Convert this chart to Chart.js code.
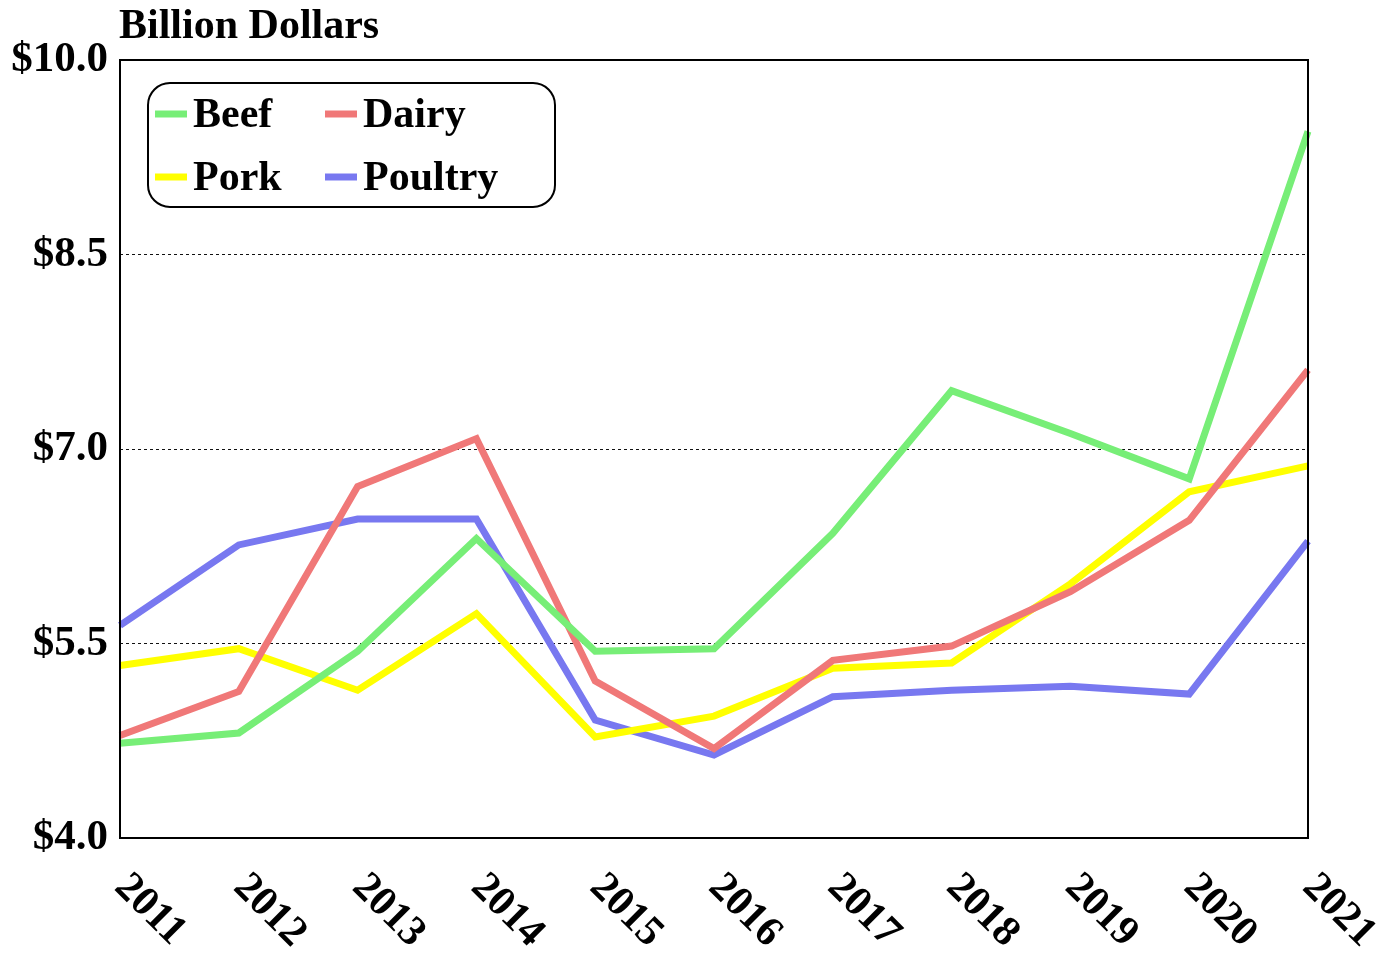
<!DOCTYPE html>
<html>
<head>
<meta charset="utf-8">
<script src="https://cdn.jsdelivr.net/npm/chart.js@4.4.1/dist/chart.umd.min.js"></script>
<style>
  body { margin: 0; background: #fff; }
  #wrap { width: 1380px; height: 953px; }
</style>
</head>
<body>
<div id="wrap"><canvas id="meatChart" width="1380" height="953"></canvas></div>
<script>
const years = ["2011", "2012", "2013", "2014", "2015", "2016", "2017", "2018", "2019", "2020", "2021"];
const beef = [4.73, 4.81, 5.44, 6.31, 5.44, 5.46, 6.35, 7.45, 7.12, 6.77, 9.45];
const dairy = [4.79, 5.13, 6.71, 7.08, 5.21, 4.69, 5.37, 5.48, 5.90, 6.45, 7.61];
const pork = [5.33, 5.46, 5.14, 5.73, 4.78, 4.94, 5.31, 5.35, 5.96, 6.67, 6.87];
const poultry = [5.64, 6.26, 6.46, 6.46, 4.91, 4.64, 5.09, 5.14, 5.17, 5.11, 6.29];
const yTicks = [4.0, 5.5, 7.0, 8.5, 10.0];

const serif = '"Liberation Serif", "Times New Roman", serif';

// title, rotated year labels, plot frame and boxed legend
const decorations = {
  id: "decorations",
  afterDatasetsDraw(chart) {
    const ctx = chart.ctx;
    const area = chart.chartArea;
    const xScale = chart.scales.x;

    ctx.save();
    ctx.strokeStyle = "#000";
    ctx.lineWidth = 2;
    ctx.strokeRect(area.left, area.top, area.right - area.left, area.bottom - area.top);

    ctx.fillStyle = "#000";
    ctx.font = "bold 42px " + serif;
    ctx.textAlign = "left";
    ctx.textBaseline = "middle";
    ctx.fillText("Billion Dollars", 119, 27);

    // year labels slanting down to the right
    ctx.font = "bold 42px " + serif;
    years.forEach(function (y, i) {
      const px = xScale.getPixelForValue(i);
      ctx.save();
      ctx.translate(px + 1, area.bottom + 43);
      ctx.rotate(Math.PI / 4);
      ctx.fillText(y, 0, 0);
      ctx.restore();
    });

    // legend box
    const lx = 148, ly = 83, lw = 407, lh = 124;
    ctx.beginPath();
    ctx.roundRect(lx, ly, lw, lh, 22);
    ctx.fillStyle = "#fff";
    ctx.fill();
    ctx.lineWidth = 2;
    ctx.strokeStyle = "#000";
    ctx.stroke();

    const spots = [[155, 114], [325, 114], [155, 177], [325, 177]];
    chart.data.datasets.forEach(function (ds, i) {
      const s = spots[i];
      ctx.strokeStyle = ds.borderColor;
      ctx.lineWidth = 7;
      ctx.beginPath();
      ctx.moveTo(s[0], s[1]);
      ctx.lineTo(s[0] + 32, s[1]);
      ctx.stroke();
      ctx.fillStyle = "#000";
      ctx.font = "bold 42px " + serif;
      ctx.fillText(ds.label, s[0] + 38, s[1] + 2);
    });
    ctx.restore();
  }
};

new Chart(document.getElementById("meatChart"), {
  type: "line",
  data: {
    labels: years,
    datasets: [
      { label: "Beef", data: beef, borderColor: "#77ee77" },
      { label: "Dairy", data: dairy, borderColor: "#f07878" },
      { label: "Pork", data: pork, borderColor: "#ffff00" },
      { label: "Poultry", data: poultry, borderColor: "#7878f0" }
    ].map(function (d) {
      return Object.assign(d, { borderWidth: 7, pointRadius: 0, tension: 0, fill: false });
    })
  },
  options: {
    responsive: false,
    animation: false,
    layout: { padding: { top: 60, right: 72, left: 0, bottom: 0 } },
    plugins: {
      legend: { display: false },
      tooltip: { enabled: false }
    },
    scales: {
      x: {
        grid: { display: false },
        border: { display: false },
        ticks: { display: false },
        afterFit: function (axis) { axis.height = 115; }
      },
      y: {
        min: 4,
        max: 10,
        afterBuildTicks: function (axis) {
          axis.ticks = yTicks.map(function (v) { return { value: v }; });
        },
        afterFit: function (axis) { axis.width = 120; },
        border: { display: false, dash: [3, 3] },
        grid: {
          drawTicks: false,
          color: function (c) {
            return (c.tick && (c.tick.value === 4 || c.tick.value === 10)) ? "transparent" : "#111";
          },
          lineWidth: 1
        },
        ticks: {
          padding: 12,
          color: "#000",
          font: { family: serif, size: 43, weight: "bold" },
          callback: function (v) { return "$" + Number(v).toFixed(1); }
        }
      }
    }
  },
  plugins: [decorations]
});
</script>
</body>
</html>
